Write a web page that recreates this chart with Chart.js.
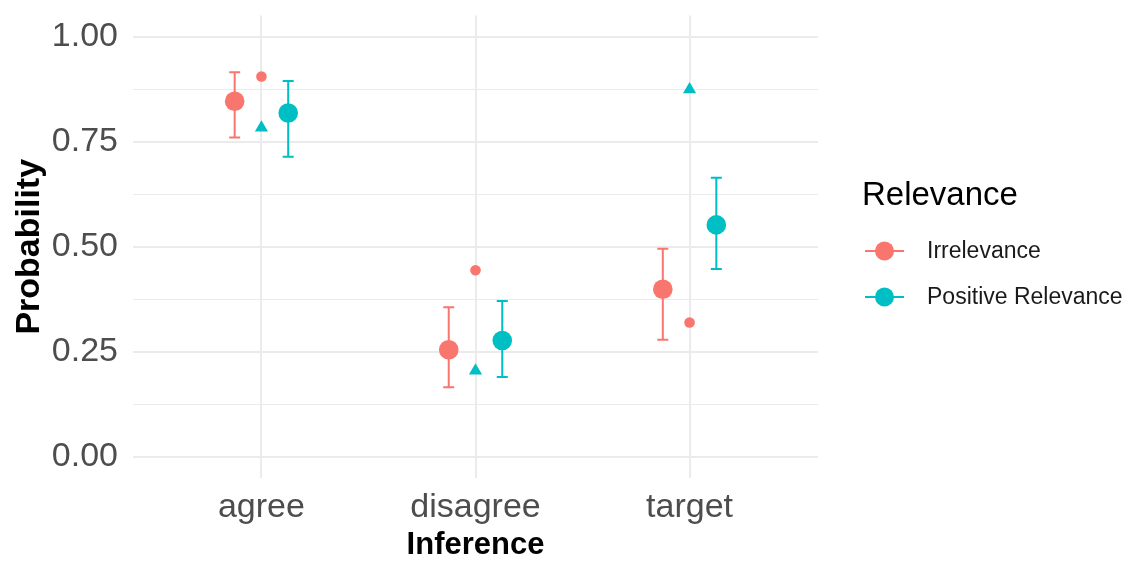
<!DOCTYPE html>
<html>
<head>
<meta charset="utf-8">
<script src="https://cdn.jsdelivr.net/npm/chart.js@4"></script>
<style>
html,body{margin:0;padding:0;background:#fff;}
#wrap{width:1127px;height:561px;}
</style>
</head>
<body>
<div id="wrap"><canvas id="c" width="1127" height="561"></canvas></div>
<script>
// ---- data ----
const categories = ['agree', 'disagree', 'target'];
const seriesNames = ['Irrelevance', 'Positive Relevance'];
const irrMean = [0.846, 0.255, 0.399];
const irrLow  = [0.760, 0.166, 0.279];
const irrHigh = [0.915, 0.356, 0.495];
const posMean = [0.818, 0.277, 0.552];
const posLow  = [0.714, 0.190, 0.447];
const posHigh = [0.894, 0.371, 0.664];
const irrObs  = [0.905, 0.444, 0.320];
const posObs  = [0.783, 0.205, 0.874];
const yTicks  = [0, 0.125, 0.25, 0.375, 0.5, 0.625, 0.75, 0.875, 1];
const yTickLabels = ['0.00', '', '0.25', '', '0.50', '', '0.75', '', '1.00'];

// ---- style ----
const RED = '#F8766D', CYAN = '#00BFC4';
const DODGE = 0.125;
const FONT = "'Liberation Sans', Arial, sans-serif";

const pts = (vals, off) => vals.map((v, i) => ({x: i + 1 + off, y: v}));

const errorBars = {
  id: 'errorBars',
  beforeDatasetsDraw(chart) {
    const {ctx, scales: {x, y}} = chart;
    const groups = [
      {lo: irrLow, hi: irrHigh, off: -DODGE, color: RED},
      {lo: posLow, hi: posHigh, off: DODGE, color: CYAN}
    ];
    ctx.save();
    ctx.lineWidth = 2;
    groups.forEach(g => {
      ctx.strokeStyle = g.color;
      g.lo.forEach((lo, i) => {
        const px = x.getPixelForValue(i + 1 + g.off);
        const y1 = y.getPixelForValue(lo);
        const y2 = y.getPixelForValue(g.hi[i]);
        ctx.beginPath();
        ctx.moveTo(px, y1); ctx.lineTo(px, y2);
        ctx.moveTo(px - 5.5, y1); ctx.lineTo(px + 5.5, y1);
        ctx.moveTo(px - 5.5, y2); ctx.lineTo(px + 5.5, y2);
        ctx.stroke();
      });
    });
    ctx.restore();
  }
};

const legendPlugin = {
  id: 'customLegend',
  afterDraw(chart) {
    const ctx = chart.ctx;
    ctx.save();
    ctx.fillStyle = '#000';
    ctx.font = `33px ${FONT}`;
    ctx.textBaseline = 'alphabetic';
    ctx.textAlign = 'left';
    ctx.fillText('Relevance', 862, 205);
    const rows = [{name: seriesNames[0], color: RED, y: 251}, {name: seriesNames[1], color: CYAN, y: 297}];
    rows.forEach(r => {
      ctx.strokeStyle = r.color; ctx.lineWidth = 2;
      ctx.beginPath(); ctx.moveTo(865, r.y); ctx.lineTo(904, r.y); ctx.stroke();
      ctx.fillStyle = r.color;
      ctx.beginPath(); ctx.arc(884.5, r.y, 9.5, 0, Math.PI * 2); ctx.fill();
      ctx.fillStyle = '#1a1a1a';
      ctx.font = `23px ${FONT}`;
      ctx.textBaseline = 'middle';
      ctx.fillText(r.name, 927, r.y + 1);
    });
    ctx.restore();
  }
};

new Chart(document.getElementById('c'), {
  type: 'scatter',
  data: {
    datasets: [
      {label: seriesNames[0], data: pts(irrMean, -DODGE), pointRadius: 9.8, pointHoverRadius: 9.8, backgroundColor: RED, borderColor: RED, borderWidth: 0},
      {label: seriesNames[1], data: pts(posMean, DODGE), pointRadius: 9.8, pointHoverRadius: 9.8, backgroundColor: CYAN, borderColor: CYAN, borderWidth: 0},
      {label: seriesNames[0] + ' obs', data: pts(irrObs, 0), pointRadius: 5.3, backgroundColor: RED, borderColor: RED, borderWidth: 0},
      {label: seriesNames[1] + ' obs', data: pts(posObs, 0), pointStyle: 'triangle', pointRadius: 7.6, backgroundColor: CYAN, borderColor: CYAN, borderWidth: 0}
    ]
  },
  options: {
    responsive: false,
    animation: false,
    events: [],
    layout: {padding: {top: 15.5, right: 309, left: 0, bottom: 0}},
    plugins: {legend: {display: false}, tooltip: {enabled: false}},
    scales: {
      x: {
        type: 'linear', min: 0.4, max: 3.6,
        afterBuildTicks: s => { s.ticks = categories.map((c, i) => ({value: i + 1})); },
        afterFit: s => { s.height = 83; s.paddingLeft = 0; s.paddingRight = 0; },
        grid: {color: '#EBEBEB', lineWidth: 2, drawTicks: false},
        border: {display: false},
        ticks: {
          callback: v => categories[v - 1],
          color: '#4D4D4D', font: {family: FONT, size: 34}, padding: 9, maxRotation: 0
        },
        title: {display: true, text: 'Inference', color: '#000', font: {family: FONT, size: 31, weight: 'bold', lineHeight: 1.0}, padding: {top: 0, bottom: 0}}
      },
      y: {
        type: 'linear', min: -0.05, max: 1.05,
        afterBuildTicks: s => { s.ticks = yTicks.map(v => ({value: v})); },
        afterFit: s => { s.width = 133; s.paddingTop = 0; s.paddingBottom = 0; },
        grid: {color: '#EBEBEB', lineWidth: c => (c.tick && Math.abs(c.tick.value * 4 - Math.round(c.tick.value * 4)) < 1e-6) ? 2 : 1, drawTicks: false},
        border: {display: false},
        ticks: {
          callback: (v, i) => yTickLabels[i],
          color: '#4D4D4D', font: {family: FONT, size: 34}, padding: 15
        },
        title: {display: true, text: 'Probability', color: '#000', font: {family: FONT, size: 34, weight: 'bold'}, padding: {top: 9, bottom: 0}}
      }
    }
  },
  plugins: [errorBars, legendPlugin]
});
</script>
</body>
</html>
